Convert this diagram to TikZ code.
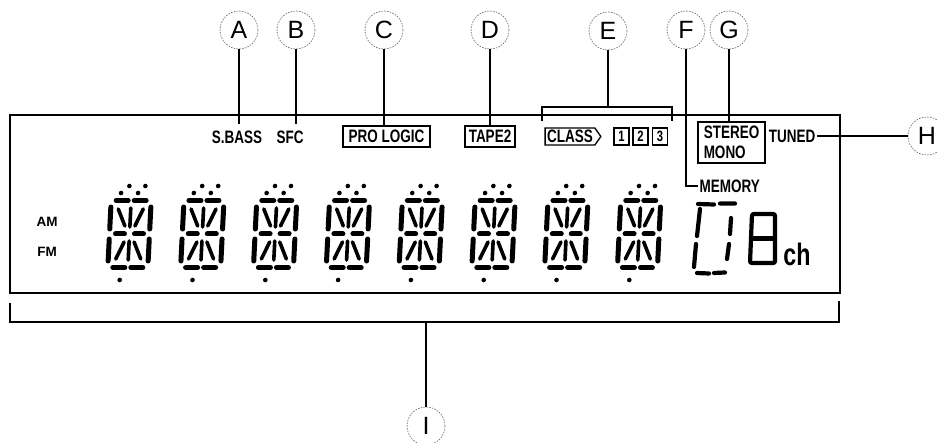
\documentclass[tikz,border=0pt]{standalone}
\usepackage{fontspec}
\setmainfont{Liberation Sans}
\newfontfamily\lcdfont[FakeStretch=0.75]{Liberation Sans}
\usetikzlibrary{positioning, shapes.symbols}
\tikzset{
    callout/.style={circle, draw=black!60, dash pattern=on 1.6pt off 1.2pt, line width=0.6pt, minimum size=38pt, inner sep=0pt, font=\fontsize{25}{25}\selectfont},
    lcdlabel/.style={inner sep=1.5pt, font=\lcdfont\bfseries\fontsize{18}{20}\selectfont},
    lcdbox/.style={lcdlabel, draw, line width=1.4pt, inner xsep=3pt, minimum height=21pt},
    numbox/.style={draw, line width=1.3pt, minimum width=15pt, minimum height=17pt, inner sep=0pt, font=\lcdfont\bfseries\fontsize{15}{15}\selectfont},
    bandlabel/.style={inner sep=1pt, font=\bfseries\fontsize{13.5}{13.5}\selectfont},
    leader/.style={line width=2pt},
    frameline/.style={line width=2.2pt},
    seg/.style={line width=5pt, line cap=round},
    thinseg/.style={line width=3.6pt, line cap=round}
}

\begin{document}
\begin{tikzpicture}[x=1pt, y=-1pt]
    \useasboundingbox (0,0) rectangle (937,443);

    % Display frame and lower bracket
    \draw[frameline] (10,115) rectangle (840,293);
    \draw[frameline] (10,303) -- (10,322) -- (839,322) -- (839,301);
    \coordinate (iroot) at (426,322);

    % Indicator labels
    \node[lcdlabel] (sbass) at (237,137) {S.BASS};
    \node[lcdlabel] (sfc) at (290,137) {SFC};
    \node[lcdbox, minimum width=87pt] (prologic) at (386.5,136.5) {PRO LOGIC};
    \node[lcdbox, minimum width=50pt] (tape) at (490,136.5) {TAPE2};
    \node[lcdbox, shape=signal, signal to=east, signal pointer angle=110, minimum height=17pt, inner xsep=2pt, line width=1.3pt] (classtag) at (570,136.5) {CLASS};
    \node[numbox] (n1) at (621.5,136.5) {1};
    \node[numbox] (n2) at (640.5,136.5) {2};
    \node[numbox] (n3) at (660,136.5) {3};
    \node[lcdbox, align=left, minimum width=67pt, minimum height=41pt] (stereo) at (731.5,142.5) {STEREO\\MONO};
    \node[lcdlabel] (tuned) at (792,136) {TUNED};
    \node[lcdlabel, anchor=west] (memory) at (698,186) {MEMORY};
    \node[bandlabel] (am) at (47,222) {AM};
    \node[bandlabel] (fm) at (47,252) {FM};

    % Bracket over the class indicators
    \draw[frameline] (542,121) -- (542,107) -- (672,107) -- (672,121);
    \coordinate (eroot) at (608,107);

    % Callout circles
    \node[callout] (A) at (239,30) {A};
    \node[callout] (B) at (296,30) {B};
    \node[callout] (C) at (384,30) {C};
    \node[callout] (D) at (490,30) {D};
    \node[callout] (E) at (608,31) {E};
    \node[callout] (F) at (686,30) {F};
    \node[callout] (G) at (729,30) {G};
    \node[callout] (H) at (927,136) {H};
    \node[callout] (I) at (426,426) {I};

    % Leader lines
    \draw[leader, shorten >=5pt] (A) -- (A |- sbass.north);
    \draw[leader, shorten >=5pt] (B) -- (B |- sfc.north);
    \draw[leader] (C) -- (C |- prologic.north);
    \draw[leader] (D) -- (D |- tape.north);
    \draw[leader] (E) -- (eroot);
    \draw[leader] (F) |- (memory.west);
    \draw[leader] (G) -- (G |- stereo.north);
    \draw[leader] (tuned.east) -- (H);
    \draw[leader] (I) -- (iroot);

    % 14-segment digits
    \foreach \k in {0,...,7} {
        \begin{scope}[shift={(129.5+72.8*\k,234)}, xslant=0.05]
            \draw[seg] (-15,-33.5) -- (-3,-33.5) (3,-33.5) -- (15,-33.5);
            \draw[seg] (-15,33.5) -- (-3,33.5) (3,33.5) -- (15,33.5);
            \draw[seg] (-20,-27) -- (-20,-5) (-20,5) -- (-20,27);
            \draw[seg] (20,-27) -- (20,-5) (20,5) -- (20,27);
            \draw[seg] (-14,0) -- (-5,0) (5,0) -- (14,0);
            \draw[thinseg] (0,-26) -- (0,-7) (0,7) -- (0,26);
            \draw[thinseg] (-12.5,-25) -- (-5,-8) (12.5,-25) -- (5,-8);
            \draw[thinseg] (-12.5,25) -- (-5,8) (12.5,25) -- (5,8);
            \foreach \dx/\dy in {-10.5/-41, -2.5/-48, 6.5/-41, 13.5/-48, -7.5/46}
                \fill (\dx,\dy) circle (2.3);
        \end{scope}
    }

    % Channel digits
    \draw[seg, line width=4.2pt] (698,204) -- (714,204.5) (720,203.5) -- (735,203.5);
    \draw[seg, line width=4.2pt] (700,209) -- (697,236) (696,244) -- (694,267);
    \draw[seg, line width=4.2pt] (731,218) -- (730,234) (729,244) -- (727,259);
    \draw[seg, line width=4.2pt] (697,273) -- (709,273.5) (714,273) -- (725,272.5);
    \draw[line width=4.2pt, rounded corners=2pt] (752,214) -- (775,214) -- (775,263) -- (750,263) -- cycle;
    \draw[line width=4.2pt] (751,238.5) -- (775,238.5);
    \node[lcdlabel, font=\lcdfont\bfseries\fontsize{31}{31}\selectfont] (ch) at (797,254) {ch};
\end{tikzpicture}
\end{document}
